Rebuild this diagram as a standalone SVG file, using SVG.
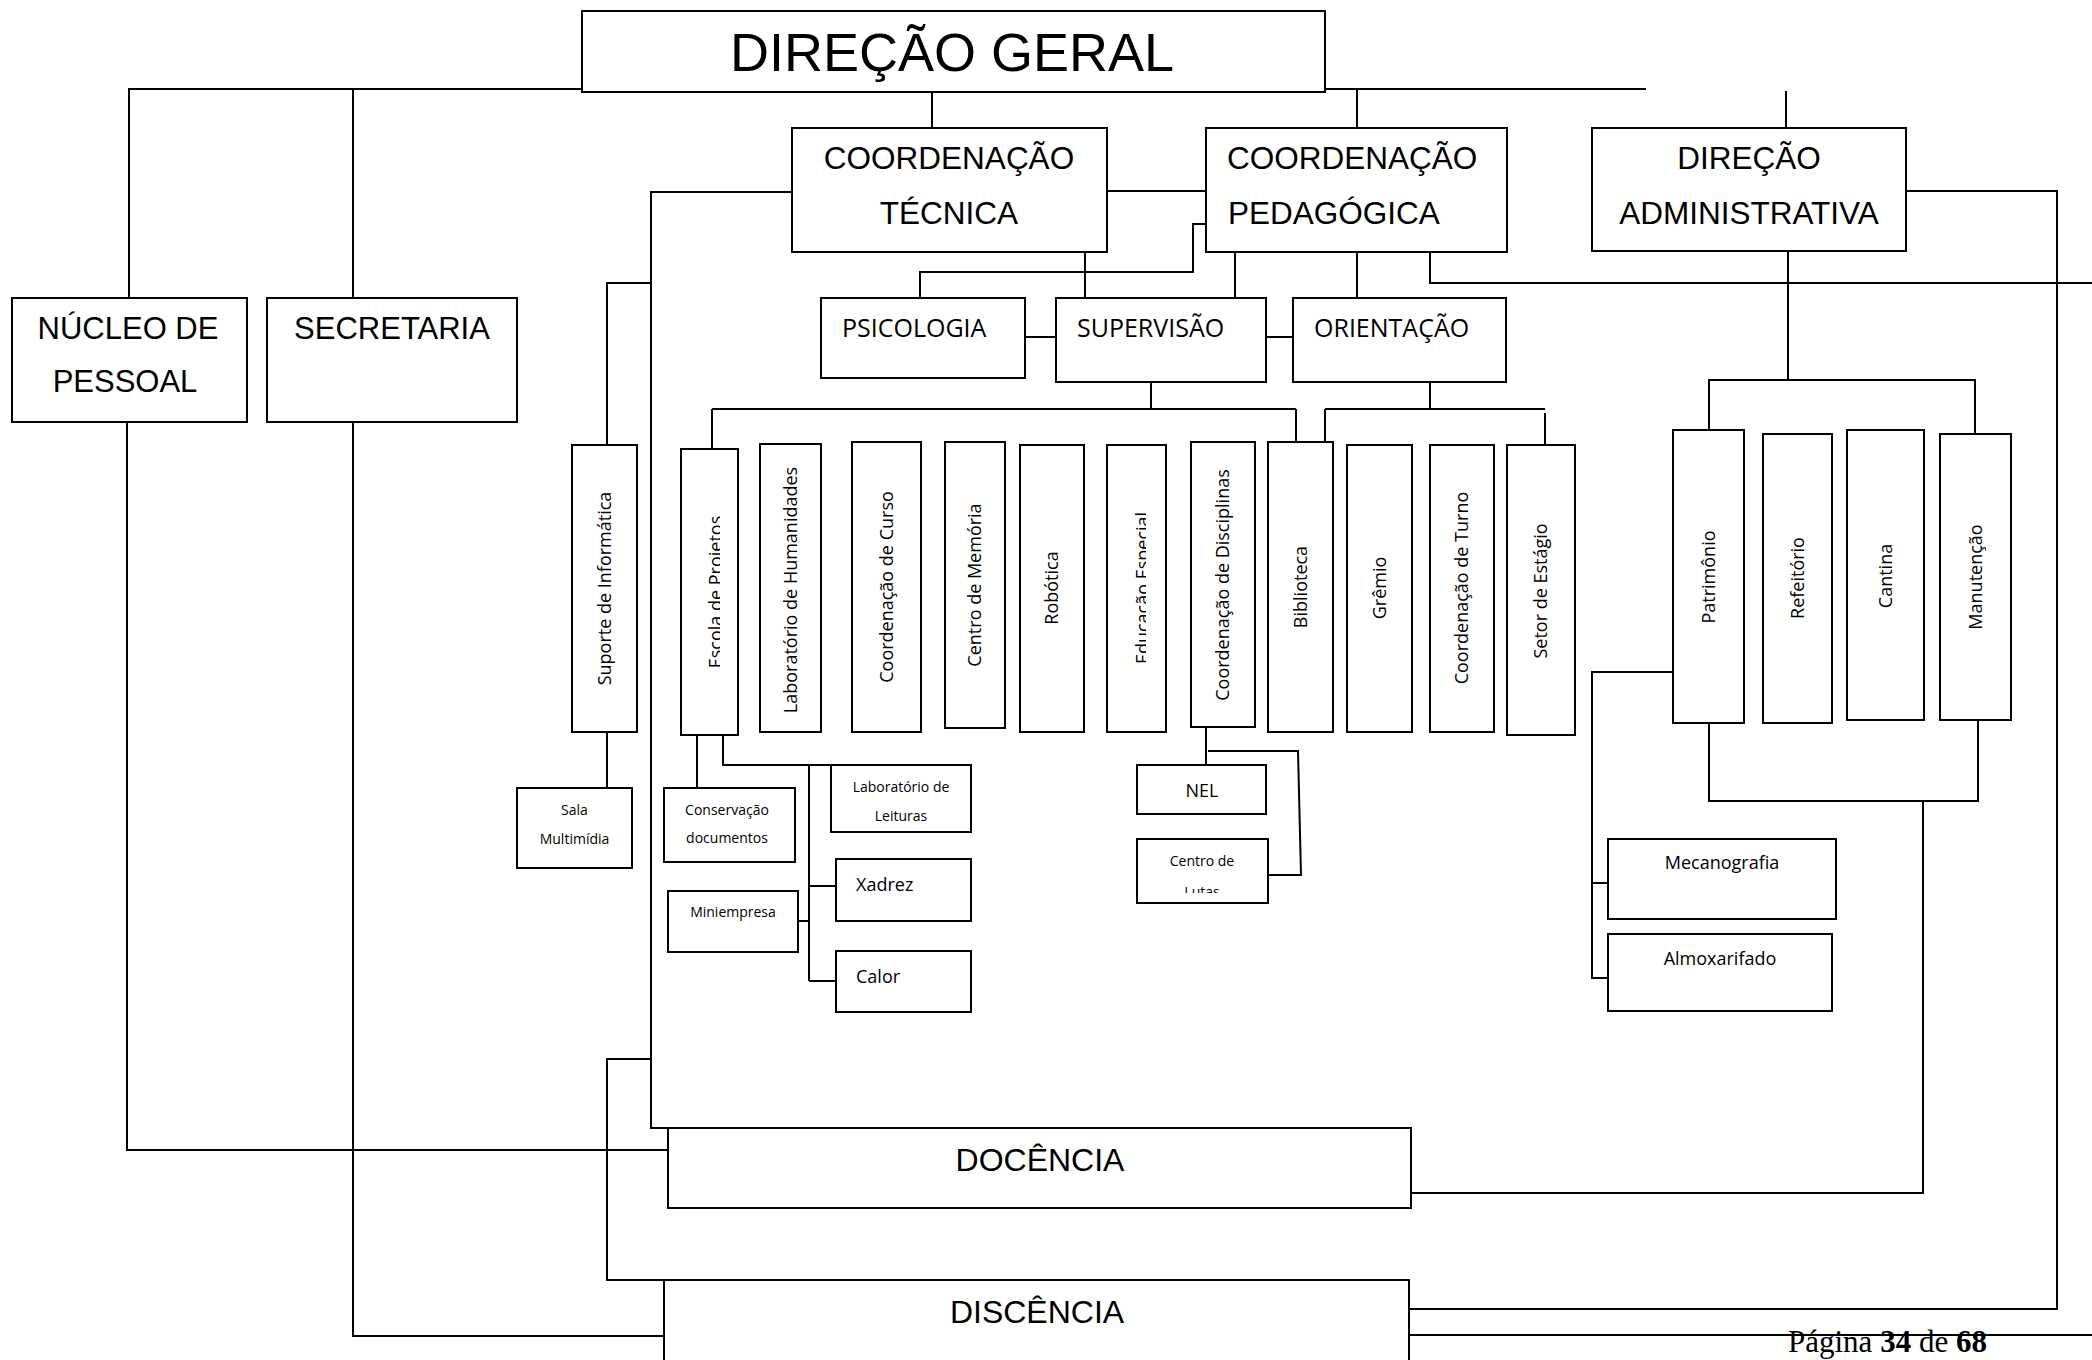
<svg xmlns="http://www.w3.org/2000/svg" width="2092" height="1360" viewBox="0 0 2092 1360">
<style>
.b{fill:#fff;stroke:#000;stroke-width:2}
.c{fill:none;stroke:#000;stroke-width:2}
.h{font-family:"Liberation Sans",Arial,sans-serif;fill:#000}
.o{font-family:"Open Sans","Noto Sans",sans-serif;fill:#000}
.v{font-family:"Open Sans","Noto Sans",sans-serif;font-size:18px;fill:#000;text-anchor:middle}
.m{text-anchor:middle}
</style>
<defs>
<clipPath id="clipEscola"><rect x="681" y="449" width="39" height="286"/></clipPath>
<clipPath id="clipEduc"><rect x="1107" y="445" width="39" height="287"/></clipPath>
<clipPath id="clipLutas"><rect x="1137" y="839" width="131" height="54"/></clipPath>
</defs>
<rect x="0" y="0" width="2092" height="1360" fill="#fff"/>
<g id="connectors">
<path class="c" d="M128 89H582M129 89V298M353 89V298"/>
<path class="c" d="M932 92V128"/>
<path class="c" d="M1325 89H1646M1357 89V128"/>
<path class="c" d="M1786 91V128"/>
<path class="c" d="M1107 191H1206"/>
<path class="c" d="M791 192H651V1128H668"/>
<path class="c" d="M651 283H607V445M607 732V788"/>
<path class="c" d="M651 1059H607V1280H664"/>
<path class="c" d="M127 422V1150H668"/>
<path class="c" d="M353 422V1336H664"/>
<path class="c" d="M1206 224H1193V272H920V298"/>
<path class="c" d="M1085 252V298M1235 252V298M1357 252V298"/>
<path class="c" d="M1430 252V283H2092"/>
<path class="c" d="M1025 337H1056M1266 337H1293"/>
<path class="c" d="M1151 382V409M712 409H1296M712 409V449M1296 409V442"/>
<path class="c" d="M1430 382V409M1325 409H1545M1325 409V442M1545 413V445"/>
<path class="c" d="M1788 251V380M1708 380H1976M1709 380V430M1975 380V434"/>
<path class="c" d="M1709 723V801H1978V720M1923 801V1193H1411"/>
<path class="c" d="M1673 672H1592V978H1608M1592 883H1608"/>
<path class="c" d="M1906 191H2057V1309H1409"/>
<path class="c" d="M1409 1335H2092"/>
<path class="c" d="M697 735V788M723 735V765H831M809 765V981M809 886H836M798 921H809M809 981H836"/>
<path class="c" d="M1206 727V765M1208 751H1298L1301 875H1268"/>
</g>
<g id="direcao-geral"><rect class="b" x="582" y="11" width="743" height="81"/><text class="h m" x="952" y="71" font-size="54">DIREÇÃO GERAL</text></g>
<g id="nucleo-pessoal"><rect class="b" x="12" y="298" width="235" height="124"/><text class="h m" x="128" y="339" font-size="31">NÚCLEO DE</text><text class="h m" x="125" y="392" font-size="31">PESSOAL</text></g>
<g id="secretaria"><rect class="b" x="267" y="298" width="250" height="124"/><text class="h m" x="392" y="339" font-size="31">SECRETARIA</text></g>
<g id="coord-tecnica"><rect class="b" x="792" y="128" width="315" height="124"/><text class="h m" x="949" y="169" font-size="31.5">COORDENAÇÃO</text><text class="h m" x="949" y="224" font-size="31.5">TÉCNICA</text></g>
<g id="coord-pedagogica"><rect class="b" x="1206" y="128" width="301" height="124"/><text class="h" x="1227" y="169" font-size="31.5">COORDENAÇÃO</text><text class="h" x="1228" y="224" font-size="31.5">PEDAGÓGICA</text></g>
<g id="direcao-administrativa"><rect class="b" x="1592" y="128" width="314" height="123"/><text class="h m" x="1749" y="169" font-size="31.5">DIREÇÃO</text><text class="h m" x="1749" y="224" font-size="31.5">ADMINISTRATIVA</text></g>
<g id="psicologia"><rect class="b" x="821" y="298" width="204" height="80"/><text class="o" x="842" y="337" font-size="25">PSICOLOGIA</text></g>
<g id="supervisao"><rect class="b" x="1056" y="298" width="210" height="84"/><text class="o" x="1077" y="337" font-size="25">SUPERVISÃO</text></g>
<g id="orientacao"><rect class="b" x="1293" y="298" width="213" height="84"/><text class="o" x="1314" y="337" font-size="25">ORIENTAÇÃO</text></g>
<g id="suporte"><rect class="b" x="572" y="445" width="65" height="287"/><text class="v" transform="translate(604.5 588.5) rotate(-90)" dy="0.35em">Suporte de Informática</text></g>
<g id="escola"><rect class="b" x="681" y="449" width="57" height="286"/><g clip-path="url(#clipEscola)"><text class="v" font-size="20" transform="translate(722 592) rotate(-90)">Escola de Projetos</text></g></g>
<g id="lab-humanidades"><rect class="b" x="760" y="444" width="61" height="288"/><text class="v" transform="translate(790.5 590) rotate(-90)" dy="0.35em">Laboratório de Humanidades</text></g>
<g id="coord-curso"><rect class="b" x="852" y="442" width="69" height="290"/><text class="v" transform="translate(886.5 587) rotate(-90)" dy="0.35em">Coordenação de Curso</text></g>
<g id="centro-memoria"><rect class="b" x="945" y="442" width="60" height="286"/><text class="v" transform="translate(975 585) rotate(-90)" dy="0.35em">Centro de Memória</text></g>
<g id="robotica"><rect class="b" x="1020" y="445" width="64" height="287"/><text class="v" transform="translate(1052 588) rotate(-90)" dy="0.35em">Robótica</text></g>
<g id="educacao-especial"><rect class="b" x="1107" y="445" width="59" height="287"/><g clip-path="url(#clipEduc)"><text class="v" transform="translate(1149 588) rotate(-90)">Educação Especial</text></g></g>
<g id="coord-disciplinas"><rect class="b" x="1191" y="442" width="64" height="285"/><text class="v" transform="translate(1223 585) rotate(-90)" dy="0.35em">Coordenação de Disciplinas</text></g>
<g id="biblioteca"><rect class="b" x="1268" y="442" width="65" height="290"/><text class="v" transform="translate(1300.5 587) rotate(-90)" dy="0.35em">Biblioteca</text></g>
<g id="gremio"><rect class="b" x="1347" y="445" width="65" height="287"/><text class="v" transform="translate(1379.5 588) rotate(-90)" dy="0.35em">Grêmio</text></g>
<g id="coord-turno"><rect class="b" x="1430" y="445" width="64" height="287"/><text class="v" transform="translate(1462 588) rotate(-90)" dy="0.35em">Coordenação de Turno</text></g>
<g id="setor-estagio"><rect class="b" x="1507" y="445" width="68" height="290"/><text class="v" transform="translate(1541 591) rotate(-90)" dy="0.35em">Setor de Estágio</text></g>
<g id="patrimonio"><rect class="b" x="1673" y="430" width="71" height="293"/><text class="v" transform="translate(1708.5 577) rotate(-90)" dy="0.35em">Patrimônio</text></g>
<g id="refeitorio"><rect class="b" x="1763" y="434" width="69" height="289"/><text class="v" transform="translate(1797.5 578) rotate(-90)" dy="0.35em">Refeitório</text></g>
<g id="cantina"><rect class="b" x="1847" y="430" width="77" height="290"/><text class="v" transform="translate(1885.5 576) rotate(-90)" dy="0.35em">Cantina</text></g>
<g id="manutencao"><rect class="b" x="1940" y="434" width="71" height="286"/><text class="v" transform="translate(1975.5 577) rotate(-90)" dy="0.35em">Manutenção</text></g>
<g id="sala-multimidia"><rect class="b" x="517" y="788" width="115" height="80"/><text class="o m" x="574.5" y="815" font-size="14">Sala</text><text class="o m" x="574.5" y="844" font-size="14">Multimídia</text></g>
<g id="conservacao"><rect class="b" x="664" y="788" width="131" height="74"/><text class="o m" x="727" y="815" font-size="14">Conservação</text><text class="o m" x="727" y="843" font-size="14">documentos</text></g>
<g id="lab-leituras"><rect class="b" x="831" y="765" width="140" height="67"/><text class="o m" x="901" y="792" font-size="14">Laboratório de</text><text class="o m" x="901" y="821" font-size="14">Leituras</text></g>
<g id="xadrez"><rect class="b" x="836" y="859" width="135" height="62"/><text class="o" x="856" y="891" font-size="18">Xadrez</text></g>
<g id="miniempresa"><rect class="b" x="668" y="891" width="130" height="61"/><text class="o m" x="733" y="917" font-size="14">Miniempresa</text></g>
<g id="calor"><rect class="b" x="836" y="951" width="135" height="61"/><text class="o" x="856" y="983" font-size="18">Calor</text></g>
<g id="nel"><rect class="b" x="1137" y="765" width="129" height="49"/><text class="o m" x="1202" y="797" font-size="18">NEL</text></g>
<g id="centro-lutas"><rect class="b" x="1137" y="839" width="131" height="64"/><text class="o m" x="1202" y="866" font-size="14">Centro de</text><g clip-path="url(#clipLutas)"><text class="o m" x="1202" y="897" font-size="14">Lutas</text></g></g>
<g id="mecanografia"><rect class="b" x="1608" y="839" width="228" height="80"/><text class="o m" x="1722" y="869" font-size="18">Mecanografia</text></g>
<g id="almoxarifado"><rect class="b" x="1608" y="934" width="224" height="77"/><text class="o m" x="1720" y="965" font-size="18">Almoxarifado</text></g>
<g id="docencia"><rect class="b" x="668" y="1128" width="743" height="80"/><text class="h m" x="1040" y="1171" font-size="32">DOCÊNCIA</text></g>
<g id="discencia"><rect class="b" x="664" y="1280" width="745" height="100"/><text class="h m" x="1037" y="1323" font-size="32">DISCÊNCIA</text></g>
<text x="1788" y="1352" font-family="'Liberation Serif','Times New Roman',serif" font-size="31" fill="#000">Página <tspan font-weight="bold">34</tspan> de <tspan font-weight="bold">68</tspan></text>
</svg>
